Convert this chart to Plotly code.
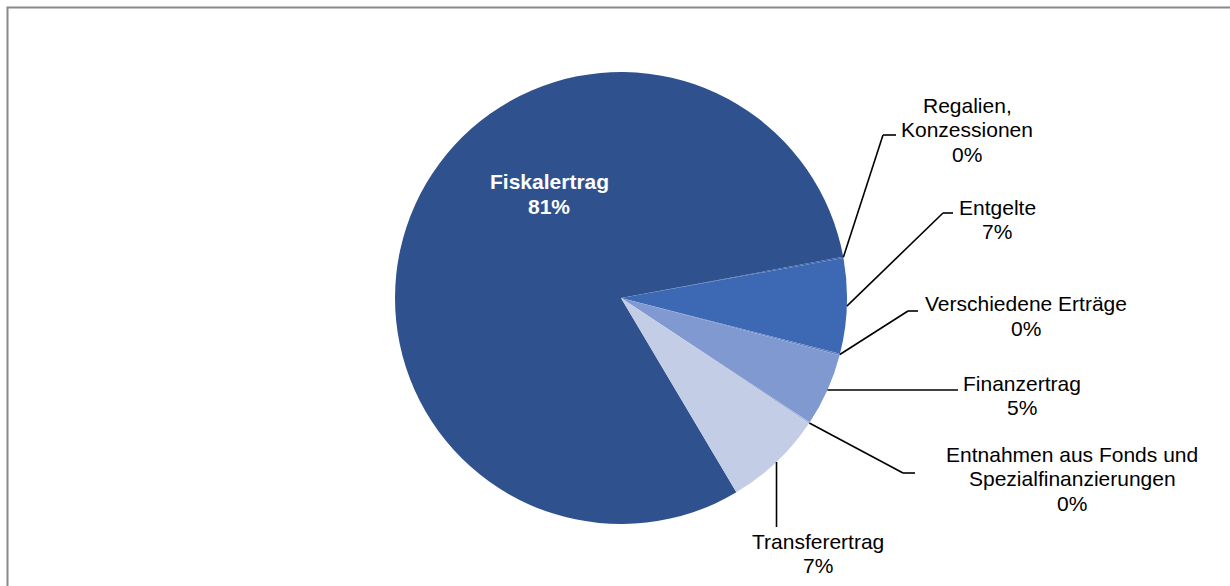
import math
import plotly.graph_objects as go

# ---------------- data ----------------
categories = [
    "Fiskalertrag",
    "Regalien, Konzessionen",
    "Entgelte",
    "Verschiedene Erträge",
    "Finanzertrag",
    "Entnahmen aus Fonds und Spezialfinanzierungen",
    "Transferertrag",
]
values = [80.6, 0.1, 6.8, 0.1, 5.2, 0.1, 7.1]
label_lines = [
    ["Fiskalertrag"],
    ["Regalien,", "Konzessionen"],
    ["Entgelte"],
    ["Verschiedene Erträge"],
    ["Finanzertrag"],
    ["Entnahmen aus Fonds und", "Spezialfinanzierungen"],
    ["Transferertrag"],
]

# ---------------- styles / layout ----------------
colors = ["#2F528F", "#3560A8", "#3C68B4", "#5F80C2", "#8099D0", "#A3B3DB", "#C3CDE6"]
W, H = 1230, 586
CX, CY, R = 621, 298, 226
ROT = 149.3
FONT = "Liberation Sans, Arial, sans-serif"
FS = 21
LINE_STEP = 24.5

# label placement in pixels: (text centre x, first-line y, elbow point, end point)
# None for the elbow -> straight leader; None for a coordinate -> same as start
label_layout = [
    (549, 182, None, None),
    (967, 105, (883, 135), (896, 135)),
    (997, 207, (943, 213), (953, 213)),
    (1026, 304, (908, 311), (918, 311)),
    (1022, 383, None, (958, None)),
    (1072, 454, (903, 473), (915, 473)),
    (818, 541, None, (None, 527)),
]


def px(x):
    return x / W


def py(y):
    return 1 - y / H


fig = go.Figure(
    go.Pie(
        labels=categories,
        values=values,
        sort=False,
        direction="clockwise",
        rotation=ROT,
        textinfo="none",
        hoverinfo="label+percent",
        marker=dict(colors=colors, line=dict(width=0)),
        showlegend=False,
        domain=dict(x=[px(CX - R), px(CX + R)], y=[py(CY + R), py(CY - R)]),
    )
)

total = sum(values)
annotations = []
shapes = []
cum = 0.0
for i, (cat, v) in enumerate(zip(categories, values)):
    mid = ROT + (cum + v / 2) / total * 360
    cum += v
    ang = math.radians(mid)
    sx = CX + R * math.sin(ang)
    sy = CY - R * math.cos(ang)
    pct = f"{round(v / total * 100)}%"
    tx, ty, elbow, end = label_layout[i]
    lines = label_lines[i] + [pct]
    for j, t in enumerate(lines):
        if i == 0:
            txt = f"<b>{t}</b>"
            col = "white"
        else:
            txt = t
            col = "black"
        annotations.append(
            dict(
                x=px(tx), y=py(ty + j * LINE_STEP), xref="paper", yref="paper",
                text=txt, showarrow=False, xanchor="center", yanchor="middle",
                font=dict(family=FONT, size=FS, color=col),
            )
        )
    if end is not None:
        ex = sx if end[0] is None else end[0]
        ey = sy if end[1] is None else end[1]
        pts = [(sx, sy)]
        if elbow is not None:
            pts.append(elbow)
        pts.append((ex, ey))
        for (x0, y0), (x1, y1) in zip(pts[:-1], pts[1:]):
            shapes.append(
                dict(type="line", xref="paper", yref="paper",
                     x0=px(x0), y0=py(y0), x1=px(x1), y1=py(y1),
                     line=dict(color="black", width=1.6))
            )

# chart frame (extends past right / bottom edges)
shapes.append(
    dict(type="rect", xref="paper", yref="paper",
         x0=px(7.5), y0=py(600), x1=px(1240), y1=py(7.5),
         line=dict(color="#898989", width=2), fillcolor="rgba(0,0,0,0)")
)

fig.update_layout(
    width=W, height=H,
    margin=dict(l=0, r=0, t=0, b=0),
    paper_bgcolor="white",
    plot_bgcolor="white",
    annotations=annotations,
    shapes=shapes,
    font=dict(family=FONT, size=FS, color="black"),
)

fig.write_html("out.html")
